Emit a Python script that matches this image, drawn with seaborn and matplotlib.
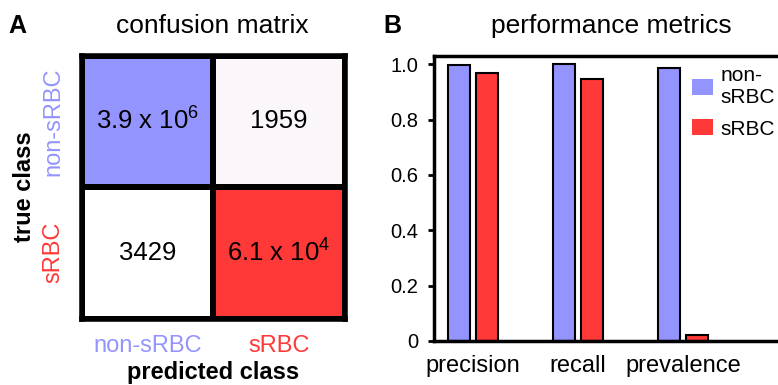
import numpy as np
import pandas as pd
import matplotlib
matplotlib.use('Agg')
import matplotlib.pyplot as plt
import seaborn as sns
from matplotlib.colors import ListedColormap, BoundaryNorm
from matplotlib.patches import Patch

# ---- data ----
classes = ['non-sRBC', 'sRBC']
counts = [[3.9e6, 1959], [3429, 6.1e4]]
count_labels = [['3.9 x 10$^6$', '1959'], ['3429', '6.1 x 10$^4$']]
metrics = ['precision', 'recall', 'prevalence']
nonsrbc_vals = [0.999, 0.9995, 0.987]
srbc_vals = [0.969, 0.947, 0.02]
yticks = [0, 0.2, 0.4, 0.6, 0.8, 1.0]
ytick_labels = ['0', '0.2', '0.4', '0.6', '0.8', '1.0']

BLUE = '#9494FF'
RED = '#FF3838'

sns.set_theme(style='white')
plt.rcParams['font.family'] = ['Liberation Sans', 'DejaVu Sans']
plt.rcParams['mathtext.default'] = 'regular'
for k in ['text.color', 'axes.labelcolor', 'xtick.color', 'ytick.color']:
    plt.rcParams[k] = 'black'

W, H = 778, 385
fig = plt.figure(figsize=(W / 100, H / 100), dpi=100)


def fx(px):
    return px / W


def fy(py):
    return 1 - py / H


# ---- Panel A: confusion matrix ----
axA = fig.add_axes([81.5 / W, 1 - 318.5 / H, 263 / W, 263 / H])
df = pd.DataFrame(counts, index=classes, columns=classes)
cmap = ListedColormap(['#FAF6FA', '#FFFFFF', RED, BLUE])
norm = BoundaryNorm([0, 2500, 10000, 1e5, 1e7], cmap.N)
sns.heatmap(df, ax=axA, cmap=cmap, norm=norm, cbar=False,
            annot=np.array(count_labels), fmt='',
            annot_kws={'fontsize': 18.5, 'color': 'black'},
            linewidths=4, linecolor='black')
for sp in axA.spines.values():
    sp.set_visible(True)
    sp.set_linewidth(4)
    sp.set_color('black')
axA.set_xlabel('')
axA.set_ylabel('')
axA.set_xticklabels(classes, fontsize=17, rotation=0)
axA.set_yticklabels(classes, fontsize=17, rotation=90, va='center')
axA.tick_params(length=0)
axA.tick_params(axis='x', pad=12)
axA.tick_params(axis='y', pad=12)
for lab, c in zip(axA.get_xticklabels(), [BLUE, RED]):
    lab.set_color(c)
for lab, c in zip(axA.get_yticklabels(), [BLUE, RED]):
    lab.set_color(c)

# ---- Panel B: performance metrics ----
axB = fig.add_axes([434 / W, 1 - 341 / H, (800 - 434) / W, (341 - 56) / H])
dfB = pd.DataFrame({
    'metric': metrics * 2,
    'class': [classes[0]] * len(metrics) + [classes[1]] * len(metrics),
    'value': nonsrbc_vals + srbc_vals,
})
sns.barplot(data=dfB, x='metric', y='value', hue='class',
            palette=[BLUE, RED], saturation=1, width=0.533, gap=0.2,
            edgecolor='black', linewidth=1.5, ax=axB, legend=False)
axB.set_xlim(-0.37, -0.37 + 366 / 105)
axB.set_ylim(0, 1.03)
axB.set_xlabel('')
axB.set_ylabel('')
axB.set_yticks(yticks)
axB.set_yticklabels(ytick_labels)
for s in ['left', 'top', 'bottom']:
    axB.spines[s].set_visible(True)
    axB.spines[s].set_linewidth(2.5)
    axB.spines[s].set_color('black')
axB.spines['right'].set_visible(False)
axB.tick_params(axis='y', left=True, length=4.5, width=2, pad=7,
                labelsize=14.5, color='black')
axB.tick_params(axis='x', length=0, pad=10, labelsize=17)

handles = [Patch(facecolor=BLUE, edgecolor='none'),
           Patch(facecolor=RED, edgecolor='none')]
fig.legend(handles, ['non-\nsRBC', 'sRBC'], loc='upper left',
           bbox_to_anchor=(fx(692), fy(66)), frameon=False, fontsize=15,
           handlelength=1.0, handleheight=0.77, handletextpad=0.35,
           labelspacing=0.6, borderpad=0, borderaxespad=0)

# ---- texts ----
fig.text(fx(212), fy(33), 'confusion matrix', ha='center', va='baseline', fontsize=19)
fig.text(fx(611), fy(33), 'performance metrics', ha='center', va='baseline', fontsize=19)
fig.text(fx(8), fy(33), 'A', ha='left', va='baseline', fontsize=18, weight='bold')
fig.text(fx(383), fy(33), 'B', ha='left', va='baseline', fontsize=18, weight='bold')
fig.text(fx(25), fy(187), 'true class', ha='center', va='center', rotation=90,
         fontsize=17, weight='bold')
fig.text(fx(213), fy(379), 'predicted class', ha='center', va='baseline',
         fontsize=17, weight='bold')

fig.savefig('out.png', dpi=100)
